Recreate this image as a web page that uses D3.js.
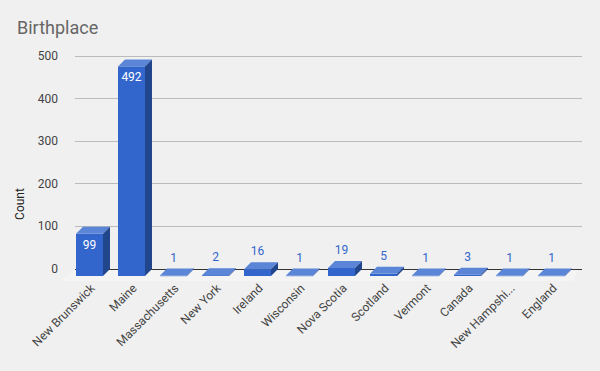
<!DOCTYPE html>
<html><head><meta charset="utf-8">
<script src="https://cdn.jsdelivr.net/npm/d3@7"></script>
<style>body{margin:0;background:#f0f0f0;} svg{display:block;}</style>
</head><body>
<svg id="c" width="600" height="371"></svg>
<script>
const categories = ["New Brunswick","Maine","Massachusetts","New York","Ireland","Wisconsin","Nova Scotia","Scotland","Vermont","Canada","New Hampshi...","England"];
const counts = [99,492,1,2,16,1,19,5,1,3,1,1];
const yTicks = [0,100,200,300,400,500];

const svg = d3.select("#c");
const W = 600, H = 371;
svg.append("rect").attr("width",W).attr("height",H).attr("fill","#f0f0f0");
const D = 7; // 3D depth
const x = d3.scaleBand().domain(categories).range([68.5,572.5]).paddingInner(15/42).paddingOuter(7.5/42);
const y = d3.scaleLinear().domain([0,500]).range([269,56]);
const font = "Roboto, Arial, sans-serif";

// title
svg.append("text").attr("x",17).attr("y",34).attr("font-family",font).attr("font-size",18).attr("fill","#666").text("Birthplace");
// axis title
svg.append("text").attr("transform","translate(24,204) rotate(-90)").attr("text-anchor","middle")
  .attr("font-family",font).attr("font-size",12).attr("fill","#222").text("Count");

const x0 = x.range()[0], x1 = x.range()[1];
// floor
svg.append("polygon").attr("points",[[x0+D,y(0)],[x1+D,y(0)],[x1,y(0)+D+5],[x0-8,y(0)+D+5]].map(p=>p.join(",")).join(" "))
  .attr("fill","#f4f4f4");
// gridlines
yTicks.forEach(t=>{
  svg.append("line").attr("x1",x0+D-1).attr("x2",x1+D+2).attr("y1",y(t)).attr("y2",y(t))
    .attr("stroke", t===0?"#333":"#bbb").attr("stroke-width",1).attr("shape-rendering","crispEdges");
  svg.append("text").attr("x",58).attr("y",y(t)+4).attr("text-anchor","end")
    .attr("font-family",font).attr("font-size",12).attr("fill","#444").text(t);
});

const bw = x.bandwidth();
categories.forEach((c,i)=>{
  const v = counts[i];
  const xf = x(c), yb = y(v), yf = yb + D, bot = y(0)+D;
  const g = svg.append("g");
  g.append("rect").attr("x",xf).attr("y",yf).attr("width",bw).attr("height",Math.max(0.6,bot-yf)).attr("fill","#3366cc");
  g.append("polygon").attr("points",[[xf,yf],[xf+D,yb],[xf+bw+D,yb],[xf+bw,yf]].map(p=>p.join(",")).join(" ")).attr("fill","#5b85d6");
  g.append("polygon").attr("points",[[xf+bw,yf],[xf+bw+D,yb],[xf+bw+D,y(0)],[xf+bw,bot]].map(p=>p.join(",")).join(" ")).attr("fill","#22468c");
  const inside = (bot-yf) > 30;
  g.append("text").attr("x",xf+bw/2).attr("y", inside ? yf+15 : yb-7).attr("text-anchor","middle")
    .attr("font-family",font).attr("font-size",12).attr("fill", inside ? "#fff" : "#3366cc").text(v);
  // x label
  svg.append("text").attr("transform",`translate(${xf+bw/2+6},${289}) rotate(-45)`).attr("text-anchor","end")
    .attr("font-family",font).attr("font-size",12).attr("fill","#444").text(c);
});
</script>
</body></html>
